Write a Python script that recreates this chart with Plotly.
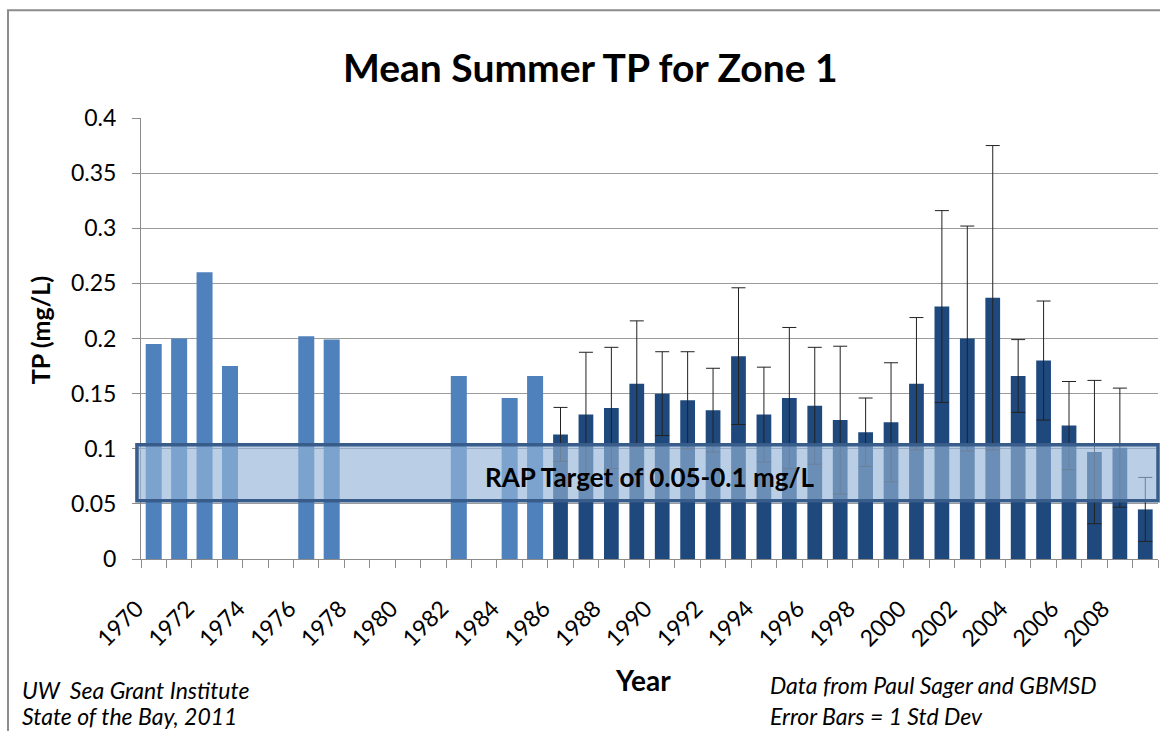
import plotly.graph_objects as go

# ---- data ----
years_early = [1970, 1971, 1972, 1973, 1976, 1977, 1982, 1984, 1985]
tp_early = [0.195, 0.200, 0.260, 0.175, 0.202, 0.199, 0.166, 0.146, 0.166]

years_late = list(range(1986, 2010))
tp_late = [0.113, 0.131, 0.137, 0.159, 0.150, 0.144, 0.135, 0.184, 0.131, 0.146,
           0.139, 0.126, 0.115, 0.124, 0.159, 0.229, 0.200, 0.237, 0.166, 0.180,
           0.121, 0.097, 0.101, 0.045]
sd_late = [0.0245, 0.0565, 0.055, 0.057, 0.038, 0.044, 0.038, 0.062, 0.043, 0.064,
           0.053, 0.067, 0.031, 0.054, 0.060, 0.087, 0.102, 0.138, 0.033, 0.054,
           0.040, 0.065, 0.054, 0.029]

tick_years = list(range(1970, 2010, 2))
tick_labels = [str(y) for y in tick_years]
boundaries = [y - 0.5 for y in range(1970, 2011)]
yticks = [0, 0.05, 0.1, 0.15, 0.2, 0.25, 0.3, 0.35, 0.4]
ytick_labels = ["0", "0.05", "0.1", "0.15", "0.2", "0.25", "0.3", "0.35", "0.4"]
target_low, target_high = 0.0528, 0.1036

FONT = "Lato, 'Open Sans', sans-serif"
PW, PH = 1017, 441.3  # plot area size in px (for paper-coordinate text placement)


def px_x(x):
    return (x - 141) / PW


def px_y(y):
    return (731 - y - 172) / PH


def note(x, y, text, size, xanchor="center", angle=0):
    fig.add_annotation(x=px_x(x), xref="paper", y=px_y(y), yref="paper",
                       xanchor=xanchor, yanchor="middle", text=text, showarrow=False,
                       textangle=angle, font=dict(family=FONT, size=size, color="#000000"))


fig = go.Figure()
fig.add_trace(go.Bar(x=years_early, y=tp_early, width=0.63,
                     marker=dict(color="#4F81BD", line=dict(width=0)),
                     showlegend=False))
fig.add_trace(go.Bar(x=years_late, y=tp_late, width=0.58,
                     marker=dict(color="#1F497D", line=dict(width=0)),
                     error_y=dict(type="data", array=sd_late, visible=True,
                                  color="#222222", thickness=1, width=7),
                     showlegend=False))

# RAP target band
fig.add_shape(type="rect", xref="paper", yref="y", x0=-0.004, x1=1.0,
              y0=target_low, y1=target_high,
              fillcolor="rgba(149,179,215,0.65)",
              line=dict(color="#385D8A", width=3.5), layer="above")
fig.add_annotation(x=px_x(650), xref="paper", y=(target_low + target_high) / 2 - 0.004, yref="y",
                   xanchor="center", yanchor="middle",
                   text="<b>RAP Target of 0.05-0.1 mg/L</b>", showarrow=False,
                   font=dict(family=FONT, size=26, color="#000000"))

# chart border
fig.add_shape(type="rect", xref="paper", yref="paper",
              x0=px_x(8), x1=1.2, y0=-1.0, y1=px_y(10),
              line=dict(color="#8C8C8C", width=2), fillcolor="rgba(0,0,0,0)", layer="below")

# texts
note(590, 67, "<b>Mean Summer TP for Zone 1</b>", 39)
note(40, 330, "<b>TP (mg/L)</b>", 25, angle=-90)
note(643, 680, "<b>Year</b>", 28)
note(20, 690, "<i>UW  Sea Grant Institute</i>", 23, xanchor="left")
note(20, 716, "<i>State of the Bay, 2011</i>", 23, xanchor="left")
note(768, 685, "<i>Data from Paul Sager and GBMSD</i>", 23, xanchor="left")
note(768, 716, "<i>Error Bars = 1 Std Dev</i>", 23, xanchor="left")

fig.update_layout(
    width=1160, height=731,
    margin=dict(l=141, r=2, t=118, b=172),
    paper_bgcolor="white", plot_bgcolor="white",
    font=dict(family=FONT, color="#000000"),
    bargap=0.35,
    xaxis=dict(range=[1969.5, 2009.5], tickmode="array", tickvals=tick_years,
               ticktext=tick_labels, tickangle=-45, ticks="", showgrid=False,
               showline=True, linecolor="#8C8C8C", linewidth=1,
               ticklabelshift=-17, ticklabelstandoff=26,
               tickfont=dict(family=FONT, size=23, color="#000000"),
               minor=dict(tickmode="array", tickvals=boundaries, ticks="outside",
                          ticklen=8, tickcolor="#8C8C8C", showgrid=False),
               zeroline=False),
    yaxis=dict(range=[0, 0.4], tickmode="array", tickvals=yticks, ticktext=ytick_labels,
               showgrid=True, gridcolor="#9C9C9C", gridwidth=1,
               ticks="outside", ticklen=8, tickcolor="#8C8C8C",
               ticklabelstandoff=11,
               showline=True, linecolor="#8C8C8C", linewidth=1, zeroline=False,
               tickfont=dict(family=FONT, size=23, color="#000000")),
)

fig.write_html("out.html", config={"displayModeBar": False},
               post_script="document.body.style.margin='0px';")
